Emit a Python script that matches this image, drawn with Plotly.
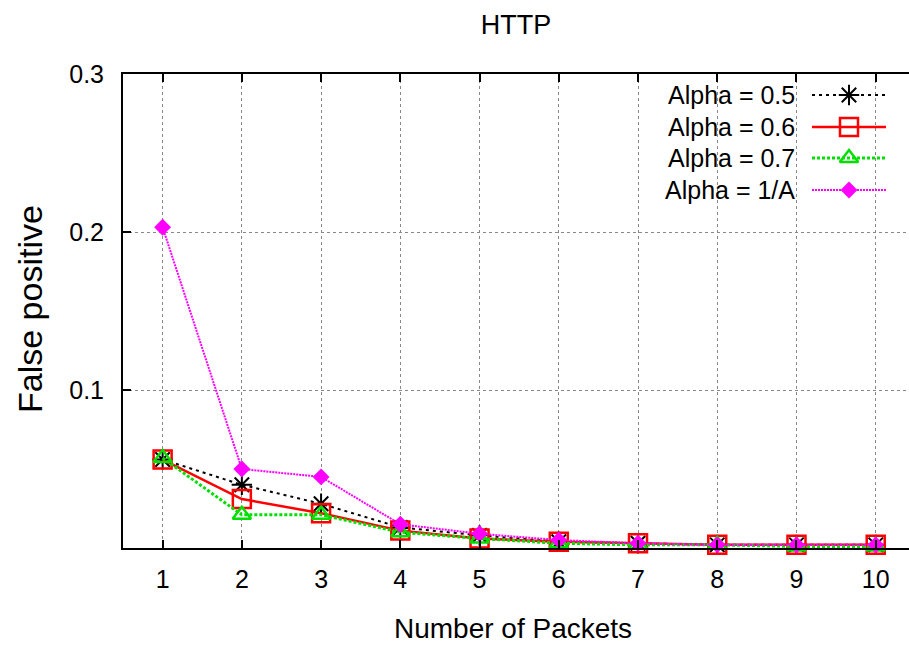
import plotly.graph_objects as go

# ---- data ----
packets = [1, 2, 3, 4, 5, 6, 7, 8, 9, 10]
alpha_05 = [0.056, 0.040, 0.028, 0.013, 0.008, 0.004, 0.003, 0.002, 0.002, 0.002]
alpha_06 = [0.056, 0.031, 0.022, 0.011, 0.006, 0.004, 0.003, 0.002, 0.002, 0.002]
alpha_07 = [0.057, 0.021, 0.021, 0.010, 0.006, 0.003, 0.002, 0.002, 0.001, 0.001]
alpha_1A = [0.203, 0.050, 0.045, 0.015, 0.009, 0.005, 0.003, 0.002, 0.002, 0.002]
series_names = ["Alpha = 0.5", "Alpha = 0.6", "Alpha = 0.7", "Alpha = 1/A"]
y_ticks = [0.1, 0.2, 0.3]
y_tick_text = ["0.1", "0.2", "0.3"]

series_values = [alpha_05, alpha_06, alpha_07, alpha_1A]
styles = [
    dict(color="black", width=2, dash="3px,4px", symbol="asterisk-open", size=17, mlw=2),
    dict(color="#ff0000", width=2.5, dash="solid", symbol="square-open", size=18, mlw=2.5),
    dict(color="#00e000", width=3, dash="3px,2px", symbol="triangle-up-open", size=16, mlw=2.5),
    dict(color="#ff00ff", width=2, dash="2px,1px", symbol="diamond", size=13, mlw=0),
]

FONT = "Liberation Sans, Arial, sans-serif"

fig = go.Figure()
for name, vals, st in zip(series_names, series_values, styles):
    fig.add_trace(go.Scatter(
        x=packets, y=vals, mode="lines+markers", name=name, showlegend=False,
        line=dict(color=st["color"], width=st["width"], dash=st["dash"]),
        marker=dict(symbol=st["symbol"], size=st["size"], color=st["color"],
                    line=dict(color=st["color"], width=st["mlw"])),
        cliponaxis=False,
    ))

# ---- custom gnuplot-style legend (text left, sample right) ----
W, H = 909, 645
L, R, T, B = 123, 0, 74, 97
pw, ph = W - L - R, H - T - B
def px_x(p):
    return (p - L) / pw
def px_y(p):
    return (T + ph - p) / ph

row_py = [95, 127, 158, 190]
for name, st, py in zip(series_names, styles, row_py):
    yy = px_y(py)
    fig.add_trace(go.Scatter(
        x=[px_x(812), px_x(886)], y=[yy, yy], mode="lines", xaxis="x2", yaxis="y2",
        line=dict(color=st["color"], width=st["width"], dash=st["dash"]),
        showlegend=False, hoverinfo="skip", cliponaxis=False))
    fig.add_trace(go.Scatter(
        x=[px_x(849)], y=[yy], mode="markers", xaxis="x2", yaxis="y2",
        marker=dict(symbol=st["symbol"], size=st["size"], color=st["color"],
                    line=dict(color=st["color"], width=st["mlw"])),
        showlegend=False, hoverinfo="skip", cliponaxis=False))
    fig.add_annotation(x=px_x(797), y=yy, xref="paper", yref="paper", text=name,
                       showarrow=False, xanchor="right", yanchor="middle",
                       font=dict(family=FONT, size=25, color="black"))

fig.update_layout(
    width=W, height=H,
    margin=dict(l=L, r=R, t=T, b=B),
    paper_bgcolor="white", plot_bgcolor="white",
    title=dict(text="HTTP", x=0.5, xref="paper", y=1 - 25 / H, yref="container",
               xanchor="center", yanchor="middle",
               font=dict(family=FONT, size=27, color="black")),
    xaxis=dict(range=[0.5, 10.42], tickvals=packets, ticktext=[str(p) for p in packets],
               ticks="inside", ticklen=8, tickwidth=1.5, tickcolor="black",
               showline=True, linecolor="black", linewidth=2, mirror="ticks",
               showgrid=True, gridcolor="#888888", griddash="dot", gridwidth=1,
               zeroline=False, ticklabelstandoff=8,
               tickfont=dict(family=FONT, size=25, color="black")),
    yaxis=dict(range=[0, 0.3], tickvals=y_ticks, ticktext=y_tick_text,
               ticks="inside", ticklen=8, tickwidth=1.5, tickcolor="black",
               showline=True, linecolor="black", linewidth=2, mirror=False,
               showgrid=True, gridcolor="#888888", griddash="dot", gridwidth=1,
               zeroline=False, ticklabelstandoff=12,
               tickfont=dict(family=FONT, size=25, color="black")),
    xaxis2=dict(range=[0, 1], overlaying="x", visible=False, fixedrange=True),
    yaxis2=dict(range=[0, 1], overlaying="y", visible=False, fixedrange=True),
)

fig.add_annotation(x=px_x(513), y=px_y(628), xref="paper", yref="paper",
                   text="Number of Packets", showarrow=False,
                   xanchor="center", yanchor="middle",
                   font=dict(family=FONT, size=28, color="black"))
fig.add_annotation(x=px_x(30), y=px_y(309), xref="paper", yref="paper",
                   text="False positive", showarrow=False, textangle=-90,
                   xanchor="center", yanchor="middle",
                   font=dict(family=FONT, size=34, color="black"))

fig.write_html("out.html")
